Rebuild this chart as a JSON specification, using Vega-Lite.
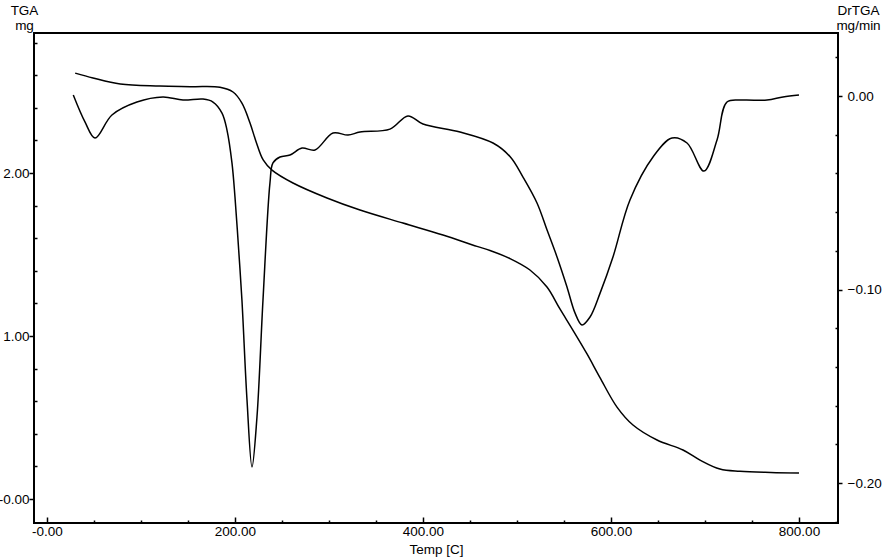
{
  "$schema": "https://vega.github.io/schema/vega-lite/v6.json",
  "autosize": "none",
  "width": 804,
  "height": 490,
  "padding": {"left": 34, "top": 33, "right": 48, "bottom": 36},
  "background": "white",
  "config": {
    "view": {"stroke": "black", "strokeWidth": 2},
    "font": "Liberation Sans",
    "axis": {
      "labelFont": "Liberation Sans",
      "labelFontSize": 13.5,
      "labelColor": "black",
      "titleFont": "Liberation Sans",
      "titleFontSize": 13.5,
      "titleFontWeight": "normal",
      "titleColor": "black",
      "tickColor": "black",
      "tickWidth": 1.5,
      "domain": false,
      "grid": false,
      "labelOverlap": false,
      "labelFlush": false,
      "labelBound": false
    }
  },
  "datasets": {
    "tga": [
      {"T": 30, "mg": 2.613}, {"T": 49, "mg": 2.583}, {"T": 78, "mg": 2.546},
      {"T": 120, "mg": 2.534}, {"T": 155, "mg": 2.53}, {"T": 184, "mg": 2.526},
      {"T": 197.9, "mg": 2.497}, {"T": 207.4, "mg": 2.429}, {"T": 216, "mg": 2.307},
      {"T": 222, "mg": 2.2}, {"T": 230, "mg": 2.08}, {"T": 239.4, "mg": 2.018},
      {"T": 261.7, "mg": 1.939}, {"T": 297.9, "mg": 1.847}, {"T": 333, "mg": 1.773},
      {"T": 378.7, "mg": 1.693}, {"T": 421.3, "mg": 1.62}, {"T": 457.4, "mg": 1.55},
      {"T": 471.3, "mg": 1.525}, {"T": 492.6, "mg": 1.475}, {"T": 513.8, "mg": 1.405},
      {"T": 531.9, "mg": 1.301}, {"T": 545.7, "mg": 1.166}, {"T": 559.6, "mg": 1.035},
      {"T": 574.5, "mg": 0.89}, {"T": 588.3, "mg": 0.745}, {"T": 606.4, "mg": 0.564},
      {"T": 623.4, "mg": 0.454}, {"T": 649, "mg": 0.362}, {"T": 676.6, "mg": 0.301},
      {"T": 694.7, "mg": 0.239}, {"T": 715.9, "mg": 0.184}, {"T": 737.2, "mg": 0.17},
      {"T": 770, "mg": 0.163}, {"T": 800, "mg": 0.16}
    ],
    "dtg": [
      {"T": 28, "dr": 0.0005}, {"T": 40.4, "dr": -0.0134}, {"T": 51.1, "dr": -0.0217},
      {"T": 69.1, "dr": -0.0098}, {"T": 95.7, "dr": -0.0031}, {"T": 123.4, "dr": -0.0005},
      {"T": 144.7, "dr": -0.0021}, {"T": 166, "dr": -0.0016}, {"T": 176.6, "dr": -0.0031},
      {"T": 186.2, "dr": -0.0088}, {"T": 191.5, "dr": -0.0176}, {"T": 196.8, "dr": -0.0346},
      {"T": 200, "dr": -0.0522}, {"T": 204, "dr": -0.08}, {"T": 207.4, "dr": -0.1054},
      {"T": 212.8, "dr": -0.1571}, {"T": 218.1, "dr": -0.1917}, {"T": 223.4, "dr": -0.1659},
      {"T": 229.8, "dr": -0.1054}, {"T": 237.2, "dr": -0.045}, {"T": 240.4, "dr": -0.0346},
      {"T": 247.9, "dr": -0.0315}, {"T": 258.5, "dr": -0.0305}, {"T": 271.3, "dr": -0.0269},
      {"T": 285.1, "dr": -0.0279}, {"T": 304.3, "dr": -0.0191}, {"T": 320.2, "dr": -0.0202},
      {"T": 333, "dr": -0.0186}, {"T": 364.9, "dr": -0.0171}, {"T": 384, "dr": -0.0103},
      {"T": 400, "dr": -0.0145}, {"T": 439.4, "dr": -0.0186}, {"T": 474.5, "dr": -0.0243},
      {"T": 493, "dr": -0.0315}, {"T": 506.4, "dr": -0.0419}, {"T": 521.3, "dr": -0.0553},
      {"T": 532, "dr": -0.0693}, {"T": 542.6, "dr": -0.0832}, {"T": 553.2, "dr": -0.0987},
      {"T": 561.7, "dr": -0.1121}, {"T": 569.1, "dr": -0.1183}, {"T": 577.7, "dr": -0.1142},
      {"T": 588.3, "dr": -0.102}, {"T": 602.1, "dr": -0.0832}, {"T": 620.2, "dr": -0.0537},
      {"T": 644.7, "dr": -0.0315}, {"T": 664.9, "dr": -0.0217}, {"T": 680.9, "dr": -0.0243},
      {"T": 698.9, "dr": -0.0388}, {"T": 712.8, "dr": -0.0227}, {"T": 723.4, "dr": -0.0031},
      {"T": 740.4, "dr": -0.0021}, {"T": 766, "dr": -0.0021}, {"T": 783, "dr": -0.0005},
      {"T": 800, "dr": 0.0005}
    ]
  },
  "layer": [
    {
      "data": {"name": "tga"},
      "mark": {"type": "line", "color": "black", "strokeWidth": 1.5, "interpolate": "catmull-rom", "clip": true},
      "encoding": {
        "x": {
          "field": "T", "type": "quantitative",
          "scale": {"domain": [-13.8, 841.5], "nice": false, "zero": false},
          "axis": {
            "title": "Temp [C]",
            "values": [0, 50, 100, 150, 200, 250, 300, 350, 400, 450, 500, 550, 600, 650, 700, 750, 800],
            "labelExpr": "datum.value % 200 == 0 ? (datum.value == 0 ? '-0.00' : format(datum.value, '.2f')) : ''",
            "tickSize": {"condition": {"test": "datum.value % 200 == 0", "value": -6}, "value": -3},
            "labelPadding": 7,
            "titlePadding": 2
          }
        },
        "y": {
          "field": "mg", "type": "quantitative",
          "scale": {"domain": [-0.147, 2.859], "nice": false, "zero": false},
          "axis": {
            "orient": "left",
            "values": [0, 0.2, 0.4, 0.6, 0.8, 1, 1.2, 1.4, 1.6, 1.8, 2, 2.2, 2.4, 2.6, 2.8],
            "labelExpr": "abs(datum.value - round(datum.value)) < 1e-6 ? (datum.value == 0 ? '-0.00' : format(datum.value, '.2f')) : ''",
            "tickSize": {"condition": {"test": "abs(datum.value - round(datum.value)) < 1e-6", "value": 5}, "value": -3},
            "labelPadding": 0,
            "title": ["TGA", "mg"],
            "titleAngle": 0,
            "titleAlign": "center",
            "titleBaseline": "top",
            "titleX": -10,
            "titleY": -30,
            "titleLineHeight": 15
          }
        }
      }
    },
    {
      "data": {"name": "dtg"},
      "mark": {"type": "line", "color": "black", "strokeWidth": 1.5, "interpolate": "catmull-rom", "clip": true},
      "encoding": {
        "x": {"field": "T", "type": "quantitative"},
        "y": {
          "field": "dr", "type": "quantitative",
          "scale": {"domain": [-0.22067, 0.03256], "nice": false, "zero": false},
          "axis": {
            "orient": "right",
            "values": [-0.22, -0.2, -0.18, -0.16, -0.14, -0.12, -0.1, -0.08, -0.06, -0.04, -0.02, 0, 0.02],
            "labelExpr": "abs(datum.value * 10 - round(datum.value * 10)) < 1e-6 ? format(datum.value, '.2f') : ''",
            "tickSize": {"condition": {"test": "abs(datum.value * 10 - round(datum.value * 10)) < 1e-6", "value": 4}, "value": -3},
            "labelPadding": 5,
            "title": ["DrTGA", "mg/min"],
            "titleAngle": 0,
            "titleAlign": "center",
            "titleBaseline": "top",
            "titleX": 20,
            "titleY": -30,
            "titleLineHeight": 15
          }
        }
      }
    }
  ],
  "resolve": {"scale": {"y": "independent"}}
}
